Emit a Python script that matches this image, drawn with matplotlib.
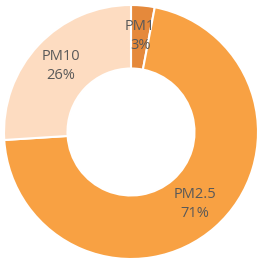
import matplotlib
matplotlib.use("Agg")
import matplotlib.pyplot as plt

categories = ["PM1", "PM2.5", "PM10"]
values = [3, 71, 26]
colors = ["#E5893B", "#F8A143", "#FDDCC1"]

fig = plt.figure(figsize=(2.63, 2.64), dpi=100)
ax = fig.add_axes([4/263, 5/264, 254/263, 254/264])
labels = [f"{c}\n{v}%" for c, v in zip(categories, values)]
wedges, texts = ax.pie(values, colors=colors, startangle=90, counterclock=False,
                       labels=labels, labeldistance=0.76,
                       wedgeprops=dict(width=0.5, edgecolor="white", linewidth=1.5),
                       textprops=dict(color="#595959", fontsize=10.5, family="Open Sans"))
for t in texts:
    t.set_ha("center")
    t.set_va("center")
    t.set_linespacing(1.35)
ax.set_xlim(-1, 1)
ax.set_ylim(-1, 1)
ax.set_aspect("equal")
ax.axis("off")
fig.savefig("out.png", dpi=100)
